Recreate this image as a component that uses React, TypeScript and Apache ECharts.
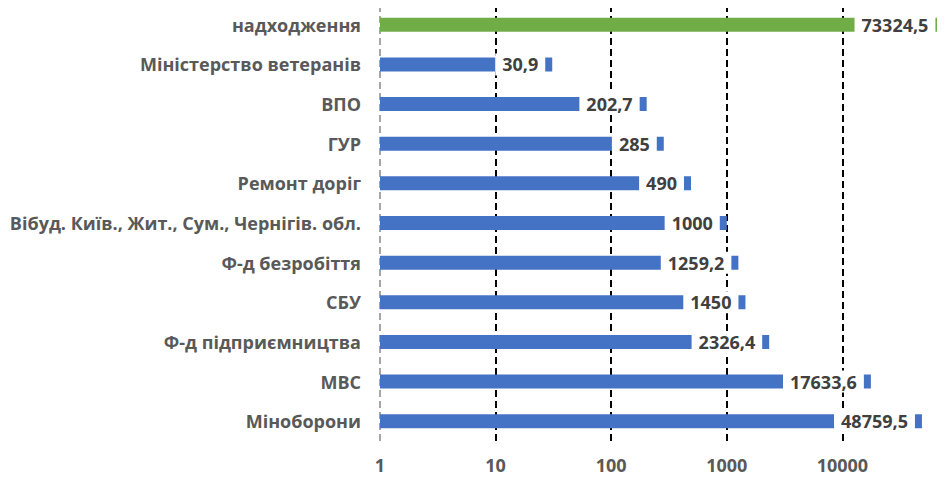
import React, { useEffect, useRef } from "react";
import * as echarts from "echarts";

const categories = [
  "надходження",
  "Міністерство ветеранів",
  "ВПО",
  "ГУР",
  "Ремонт доріг",
  "Вібуд. Київ., Жит., Сум., Чернігів. обл.",
  "Ф-д безробіття",
  "СБУ",
  "Ф-д підприємництва",
  "МВС",
  "Міноборони",
];
const values = [73324.5, 30.9, 202.7, 285, 490, 1000, 1259.2, 1450, 2326.4, 17633.6, 48759.5];
const barColors = ["#70AD47", "#4472C4", "#4472C4", "#4472C4", "#4472C4", "#4472C4", "#4472C4", "#4472C4", "#4472C4", "#4472C4", "#4472C4"];
const xTickLabels = ["1", "10", "100", "1000", "10000"];

export default function App() {
  const ref = useRef<HTMLDivElement>(null);
  useEffect(() => {
    if (!ref.current) return;
    const chart = echarts.init(ref.current, null, { renderer: "svg" });
    const font = "'Open Sans', 'Noto Sans', sans-serif";
    chart.setOption({
      animation: false,
      grid: {
        left: 372,
        right: -13,
        top: -3,
        bottom: 38,
        containLabel: false,
        outerBoundsMode: "none",
      },
      xAxis: {
        type: "log",
        logBase: 10,
        min: 1,
        max: 100000,
        axisLine: { show: false },
        axisTick: { show: false },
        axisLabel: {
          color: "#595959",
          fontWeight: "bold",
          fontSize: 18,
          fontFamily: font,
          margin: 15,
          formatter: (v: number) => {
            const s = String(Math.round(v));
            return xTickLabels.indexOf(s) >= 0 ? s : "";
          },
        },
        splitLine: {
          show: true,
          lineStyle: {
            color: ["#a6a6a6", "#000000", "#000000", "#000000", "#000000", "#000000"],
            width: 2,
            type: [7, 4],
          },
        },
      },
      yAxis: {
        type: "category",
        inverse: true,
        data: categories,
        axisLine: { show: false },
        axisTick: { show: false },
        axisLabel: {
          color: "#595959",
          fontWeight: "bold",
          fontSize: 18,
          fontFamily: font,
          margin: 19,
        },
      },
      series: [
        {
          type: "bar",
          barWidth: 14,
          data: values.map((v, i) => ({ value: v, itemStyle: { color: barColors[i] } })),
          label: {
            show: true,
            position: "insideRight",
            distance: 7,
            backgroundColor: "#ffffff",
            padding: [0, 7],
            lineHeight: 22,
            color: "#404040",
            fontWeight: "bold",
            fontSize: 18,
            fontFamily: font,
            formatter: (p: any) => String(p.value).replace(".", ","),
          },
        },
      ],
    });
    return () => chart.dispose();
  }, []);
  return <div ref={ref} style={{ width: 937, height: 471 }} />;
}
